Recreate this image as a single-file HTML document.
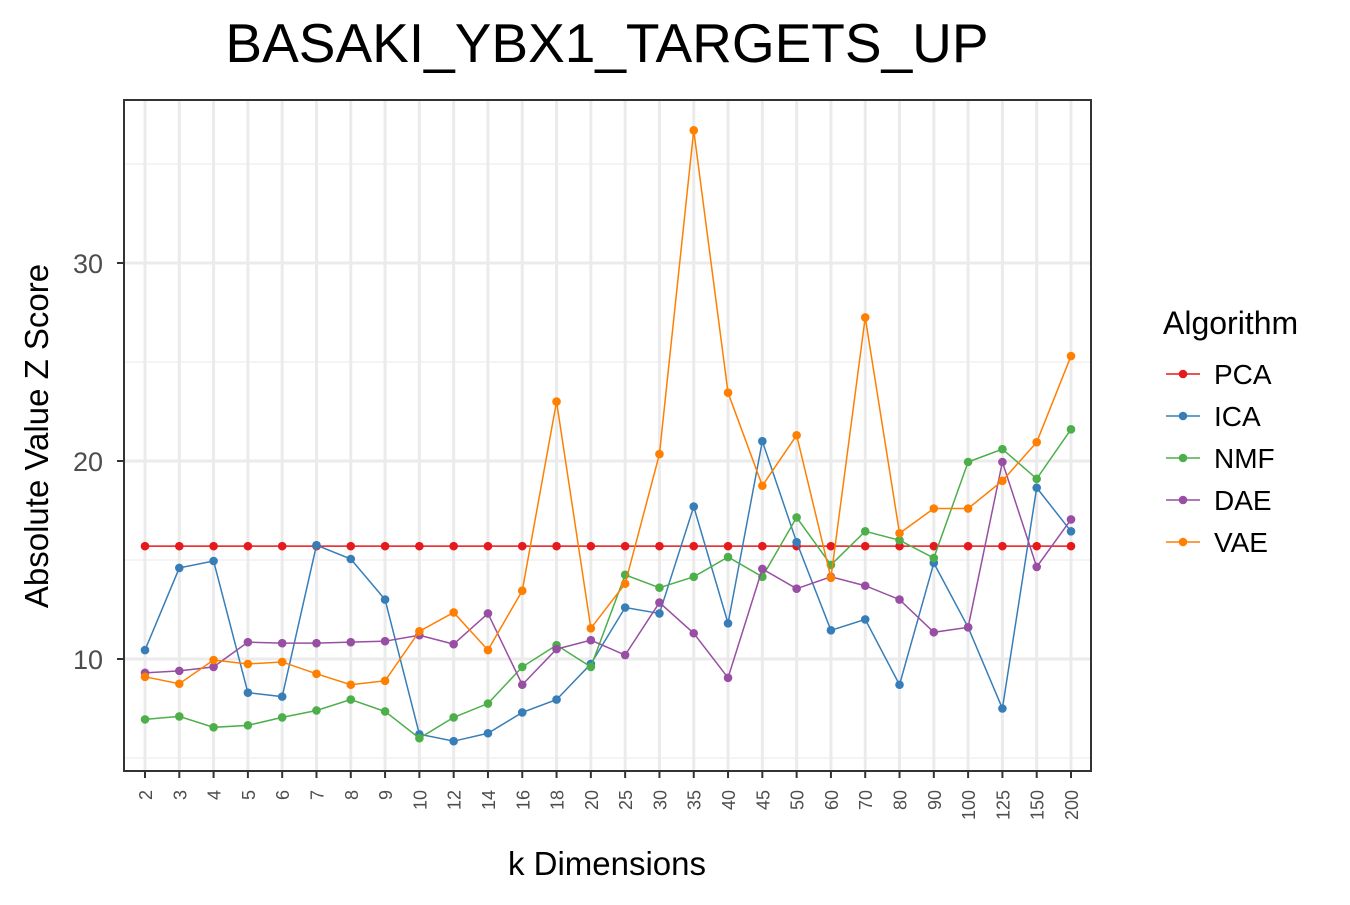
<!DOCTYPE html>
<html><head><meta charset="utf-8"><style>
body{margin:0;background:#fff;font-family:"Liberation Sans",Arial,sans-serif;}
</style></head><body>
<svg id="chart" width="1350" height="900" xmlns="http://www.w3.org/2000/svg" font-family="Liberation Sans, Arial, sans-serif">
<text x="607" y="62" font-size="55" text-anchor="middle">BASAKI_YBX1_TARGETS_UP</text>
<g id="grid"></g><g id="series"></g><g id="axes"></g>
<text x="607" y="875" font-size="33" text-anchor="middle">k Dimensions</text>
<text transform="translate(48,436) rotate(-90)" font-size="33" text-anchor="middle">Absolute Value Z Score</text>
<g id="legend"></g>
</svg>
<script>
const categories=["2","3","4","5","6","7","8","9","10","12","14","16","18","20","25","30","35","40","45","50","60","70","80","90","100","125","150","200"];
const pcaValues=Array(28).fill(15.7);
const icaValues=[10.45,14.6,14.95,8.3,8.1,15.75,15.05,13.0,6.2,5.85,6.25,7.3,7.95,9.75,12.6,12.3,17.7,11.8,21.0,15.9,11.45,12.0,8.7,14.85,11.6,7.5,18.65,16.45];
const nmfValues=[6.95,7.1,6.55,6.65,7.05,7.4,7.95,7.35,6.0,7.05,7.75,9.6,10.7,9.6,14.25,13.6,14.15,15.15,14.15,17.15,14.75,16.45,16.0,15.1,19.95,20.6,19.1,21.6];
const daeValues=[9.3,9.4,9.6,10.85,10.8,10.8,10.85,10.9,11.2,10.75,12.3,8.7,10.5,10.95,10.2,12.85,11.3,9.05,14.55,13.55,14.15,13.7,13.0,11.35,11.6,19.95,14.65,17.05];
const vaeValues=[9.1,8.75,9.95,9.75,9.85,9.25,8.7,8.9,11.4,12.35,10.45,13.45,23.0,11.55,13.8,20.35,36.7,23.45,18.75,21.3,14.1,27.25,16.35,17.6,17.6,19.0,20.95,25.3];
const seriesNames=["PCA","ICA","NMF","DAE","VAE"];
const seriesColors=["#E41A1C","#377EB8","#4DAF4A","#984EA3","#FF7F00"];
const yTicks=[10,20,30];
const yMinor=[5,15,25,35];

const NS="http://www.w3.org/2000/svg";
const L=124,R=1091,T=100,B=771;
const x=i=>145+i*(1071-145)/(categories.length-1);
const y=v=>659-(v-10)*19.8;
function mk(tag,attrs,parent){const e=document.createElementNS(NS,tag);for(const k in attrs)e.setAttribute(k,attrs[k]);parent.appendChild(e);return e;}
const grid=document.getElementById('grid'),axes=document.getElementById('axes'),ser=document.getElementById('series'),leg=document.getElementById('legend');
yMinor.forEach(v=>{const l=mk('line',{x1:L,x2:R,y1:y(v),y2:y(v),stroke:'#f0f0f0','stroke-width':1.5},grid);

});
yTicks.forEach(v=>{const l=mk('line',{x1:L,x2:R,y1:y(v),y2:y(v),stroke:'#ebebeb','stroke-width':3},grid);


const t=mk('text',{x:103,y:y(v)+10,'font-size':27,fill:'#4d4d4d','text-anchor':'end'},axes);t.textContent=v;


mk('line',{x1:117,x2:124,y1:y(v),y2:y(v),stroke:'#333','stroke-width':2},axes);});
categories.forEach((c,i)=>{const l=mk('line',{x1:x(i),x2:x(i),y1:T,y2:B,stroke:'#ebebeb','stroke-width':3},grid);


mk('line',{x1:x(i),x2:x(i),y1:B,y2:B+7,stroke:'#333','stroke-width':2},axes);
const t=mk('text',{transform:`translate(${x(i)+7},${B+19}) rotate(-90)`,'font-size':18,fill:'#4d4d4d','text-anchor':'end'},axes);t.textContent=c;

});
const frame=mk('rect',{x:L,y:T,width:R-L,height:B-T,fill:'none',stroke:'#333','stroke-width':2},axes);


const allVals=[pcaValues,icaValues,nmfValues,daeValues,vaeValues];
allVals.forEach((vals,s)=>{const g=mk('g',{},ser);


mk('polyline',{points:vals.map((v,i)=>x(i)+','+y(v)).join(' '),fill:'none',stroke:seriesColors[s],'stroke-width':1.5},g);
vals.forEach((v,i)=>{const p=mk('circle',{cx:x(i),cy:y(v),r:4.3,fill:seriesColors[s]},g);

});});
const lt=mk('text',{x:1163,y:334,'font-size':32},leg);lt.textContent='Algorithm';


seriesNames.forEach((n,s)=>{const yy=374+s*42;const g=mk('g',{},leg);


mk('line',{x1:1166,x2:1200,y1:yy,y2:yy,stroke:seriesColors[s],'stroke-width':1.5},g);
mk('circle',{cx:1183,cy:yy,r:4.3,fill:seriesColors[s]},g);
const t=mk('text',{x:1214,y:yy+10,'font-size':28},g);t.textContent=n;});
</script>
</body></html>
